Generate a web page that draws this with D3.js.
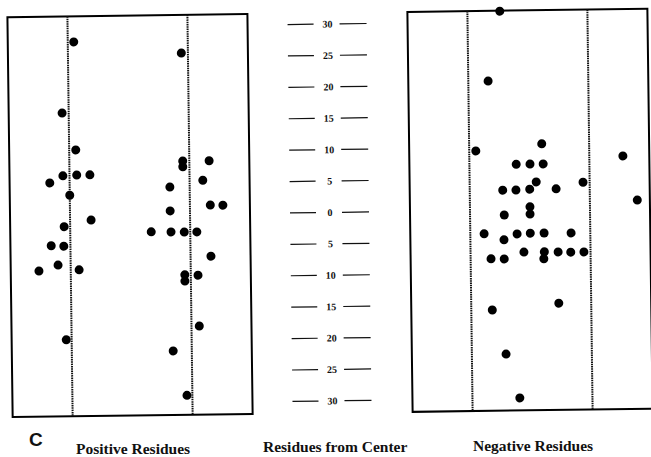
<!DOCTYPE html>
<html>
<head>
<meta charset="utf-8">
<script src="https://cdn.jsdelivr.net/npm/d3@7"></script>
<style>
  html, body { margin: 0; padding: 0; background: #fff; }
  svg { display: block; }
</style>
</head>
<body>
<svg id="chart" width="651" height="457"></svg>
<script>
// Residues from center (units of the middle scale)
const tickValues = [30, 25, 20, 15, 10, 5, 0, -5, -10, -15, -20, -25, -30];

// Positive residues: value on the middle scale, horizontal position in column units (0-4)
const posValues = [
  27.6, 16.3, 10.4, 6.3, 6.4, 6.4, 5.2, 3.2, -0.8, -1.8, -4.8, -4.9, -7.9, -8.8, -8.7, -19.8,
  25.6, 8.4, 7.5, 8.4, 5.3, 4.3, 1.35, 1.3, 0.5, -2.8, -2.85, -2.9, -2.9, -6.8, -9.7, -10.7, -9.8, -17.9, -21.8, -28.9
];
const posColumns = [
  1.10, 0.89, 1.11, 0.89, 1.12, 1.34, 0.67, 1.00, 1.35, 0.90, 0.68, 0.89, 0.79, 0.47, 1.14, 0.91,
  2.89, 2.89, 2.89, 3.33, 3.22, 2.67, 3.34, 3.55, 2.67, 2.35, 2.68, 2.90, 3.11, 3.34, 2.90, 2.90, 3.12, 3.13, 2.69, 2.91
];

// Negative residues
const negValues = [
  31.6, 20.5, 9.4, 10.4, 7.2, 7.2, 7.2, 4.35, 3.1, 3.1, 3.2, 3.2, 4.2, 8.3, 1.25, 0.4, -0.75, -0.85,
  -3.8, -3.9, -3.8, -3.8, -3.85, -4.8, -6.8, -6.8, -6.85, -6.9, -6.9, -7.8, -7.85, -7.9, -15.95, -15.0, -23.0, -30.0
];
const negColumns = [
  1.54, 1.33, 1.11, 2.21, 1.78, 2.01, 2.23, 2.11, 1.55, 1.77, 2.00, 2.44, 2.89, 3.56, 3.79, 2.00, 2.00, 1.57,
  1.23, 1.78, 2.00, 2.23, 2.68, 1.56, 1.89, 2.23, 2.46, 2.67, 2.89, 1.34, 1.56, 2.22, 1.35, 2.46, 1.57, 1.79
];

const guideColumns = [1, 3];
const panelLetter = "C";
const captions = ["Positive Residues", "Residues from Center", "Negative Residues"];

// Layout
const panelTop = 13, panelBottom = 413;
const dotRadius = 4.5;

const $svg = d3.select("#chart");

// the scanned figure is slightly tilted
const $plot = $svg.append("g")
    .attr("transform", "rotate(-0.75, 325, 212)");

const y = d3.scaleLinear()
    .domain([-32, 32])
    .range([413, 11]);

const xPos = d3.scaleLinear().domain([0, 4]).range([10, 250]);
const xNeg = d3.scaleLinear().domain([0, 4]).range([410, 650]);

drawPanel($plot.append("g").attr("id", "positive"), xPos, posValues, posColumns);
drawPanel($plot.append("g").attr("id", "negative"), xNeg, negValues, negColumns);

// Middle scale
const $scale = $plot.append("g").attr("id", "center-scale");
const $ticks = $scale.selectAll("g")
  .data(tickValues)
  .join("g")
    .attr("transform", d => `translate(0,${y(d)})`);

$ticks.selectAll("line")
  .data([[290, 316], [342, 369]])
  .join("line")
    .attr("x1", d => d[0])
    .attr("x2", d => d[1])
    .attr("y1", 0.5)
    .attr("y2", 0.5)
    .attr("stroke", "#111")
    .attr("stroke-width", 1.2);

$ticks.append("text")
    .attr("x", 330)
    .attr("y", 4)
    .attr("text-anchor", "middle")
    .attr("font-family", "'Liberation Serif', 'DejaVu Serif', serif")
    .attr("font-weight", "bold")
    .attr("font-size", 10)
    .attr("fill", "#111")
    .text(d => Math.abs(d));

// Captions
$svg.append("text")
    .attr("x", 29)
    .attr("y", 446)
    .attr("font-family", "'Liberation Sans', Arial, sans-serif")
    .attr("font-weight", "bold")
    .attr("font-size", 19)
    .attr("fill", "#111")
    .text(panelLetter);

$svg.selectAll("text.caption")
  .data(captions)
  .join("text")
    .attr("class", "caption")
    .attr("x", (d, i) => [76, 263, 473][i])
    .attr("y", (d, i) => [454, 452, 451][i])
    .attr("font-family", "'Liberation Serif', 'DejaVu Serif', serif")
    .attr("font-weight", "bold")
    .attr("font-size", 15.5)
    .attr("fill", "#111")
    .text(d => d);

function drawPanel(selection, x, values, columns) {
    const [x0, x1] = x.range();

    selection.append("rect")
        .attr("x", x0)
        .attr("y", panelTop)
        .attr("width", x1 - x0)
        .attr("height", panelBottom - panelTop)
        .attr("fill", "none")
        .attr("stroke", "#000")
        .attr("stroke-width", 2);

    selection.selectAll("line.guide")
      .data(guideColumns)
      .join("line")
        .attr("class", "guide")
        .attr("x1", d => x(d))
        .attr("x2", d => x(d))
        .attr("y1", panelTop)
        .attr("y2", panelBottom)
        .attr("stroke", "#111")
        .attr("stroke-width", 2)
        .attr("stroke-dasharray", "1.5 0.8");

    selection.selectAll("circle")
      .data(values.map((v, i) => ({ v, c: columns[i] })))
      .join("circle")
        .attr("cx", d => x(d.c))
        .attr("cy", d => y(d.v))
        .attr("r", dotRadius)
        .attr("fill", "#000");
}
</script>
</body>
</html>
